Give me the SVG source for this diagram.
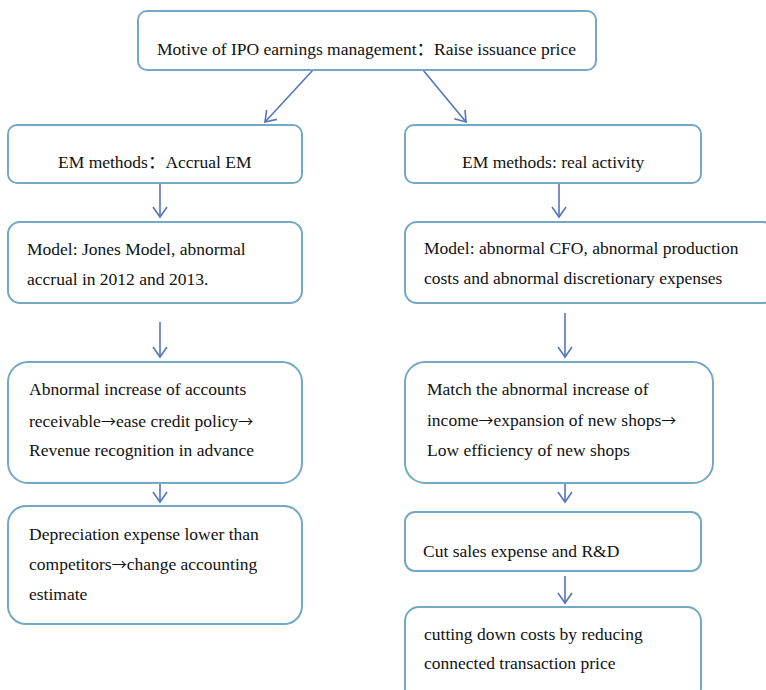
<svg xmlns="http://www.w3.org/2000/svg" width="766" height="690" viewBox="0 0 766 690">
<style>
.box{fill:#fff;stroke:#74A9C6;stroke-width:2}
.t{font-family:'Liberation Serif','Times New Roman',serif;font-size:17.5px;fill:#111}
.cjk{font-family:'Noto Sans CJK SC',sans-serif}
.ar{font-family:'Noto Sans CJK SC',sans-serif;font-size:15px}
.c{stroke:#5575BA;stroke-width:1.6;fill:none}
</style>
<defs>
<marker id="ah" markerUnits="userSpaceOnUse" markerWidth="16" markerHeight="16" refX="11" refY="8" orient="auto">
<path d="M1,1 L11,8 L1,15" fill="none" stroke="#5575BA" stroke-width="1.6"/>
</marker>
</defs>
<rect width="766" height="690" fill="#fff"/>
<g id="connectors">
<line class="c" x1="313" y1="70" x2="265" y2="122" marker-end="url(#ah)"/>
<line class="c" x1="423" y1="70" x2="466" y2="122" marker-end="url(#ah)"/>
<line class="c" x1="160" y1="182" x2="160" y2="217" marker-end="url(#ah)"/>
<line class="c" x1="559" y1="182" x2="559" y2="217" marker-end="url(#ah)"/>
<line class="c" x1="160" y1="322" x2="160" y2="357" marker-end="url(#ah)"/>
<line class="c" x1="565" y1="313" x2="565" y2="357" marker-end="url(#ah)"/>
<line class="c" x1="160" y1="467" x2="160" y2="502" marker-end="url(#ah)"/>
<line class="c" x1="565" y1="468" x2="565" y2="502" marker-end="url(#ah)"/>
<line class="c" x1="565" y1="576" x2="565" y2="603" marker-end="url(#ah)"/>
</g>
<g id="motive">
<rect class="box" x="138" y="11" width="458" height="59" rx="9"/>
<text class="t" x="157" y="55">Motive of IPO earnings management<tspan class="cjk">：</tspan>Raise issuance price</text>
</g>
<g id="accrual">
<rect class="box" x="8" y="125" width="294" height="58" rx="9"/>
<text class="t" x="58" y="168">EM methods<tspan class="cjk">：</tspan>Accrual EM</text>
</g>
<g id="real">
<rect class="box" x="405" y="125" width="296" height="58" rx="9"/>
<text class="t" x="462" y="168">EM methods: real activity</text>
</g>
<g id="jones">
<rect class="box" x="8" y="222" width="294" height="81" rx="12"/>
<text class="t" x="27" y="255">Model: Jones Model, abnormal</text>
<text class="t" x="27" y="285">accrual in 2012 and 2013.</text>
</g>
<g id="realmodel">
<rect class="box" x="405" y="222" width="370" height="81" rx="12"/>
<text class="t" x="424" y="254">Model: abnormal CFO, abnormal production</text>
<text class="t" x="424" y="284">costs and abnormal discretionary expenses</text>
</g>
<g id="receivable">
<rect class="box" x="8" y="362" width="294" height="121" rx="20"/>
<text class="t" x="29" y="395">Abnormal increase of accounts</text>
<text class="t" x="29" y="427">receivable<tspan class="ar">→</tspan>ease credit policy<tspan class="ar">→</tspan></text>
<text class="t" x="29" y="456">Revenue recognition in advance</text>
</g>
<g id="income">
<rect class="box" x="405" y="362" width="308" height="121" rx="20"/>
<text class="t" x="427" y="395">Match the abnormal increase of</text>
<text class="t" x="427" y="426">income<tspan class="ar">→</tspan>expansion of new shops<tspan class="ar">→</tspan></text>
<text class="t" x="427" y="456">Low efficiency of new shops</text>
</g>
<g id="depreciation">
<rect class="box" x="8" y="506" width="294" height="118" rx="18"/>
<text class="t" x="29" y="540">Depreciation expense lower than</text>
<text class="t" x="29" y="570">competitors<tspan class="ar">→</tspan>change accounting</text>
<text class="t" x="29" y="600">estimate</text>
</g>
<g id="cut">
<rect class="box" x="405" y="512" width="296" height="59" rx="10"/>
<text class="t" x="423" y="557">Cut sales expense and R&amp;D</text>
</g>
<g id="cutting">
<rect class="box" x="405" y="607" width="296" height="95" rx="14"/>
<text class="t" x="424" y="640">cutting down costs by reducing</text>
<text class="t" x="424" y="669">connected transaction price</text>
</g>
</svg>
